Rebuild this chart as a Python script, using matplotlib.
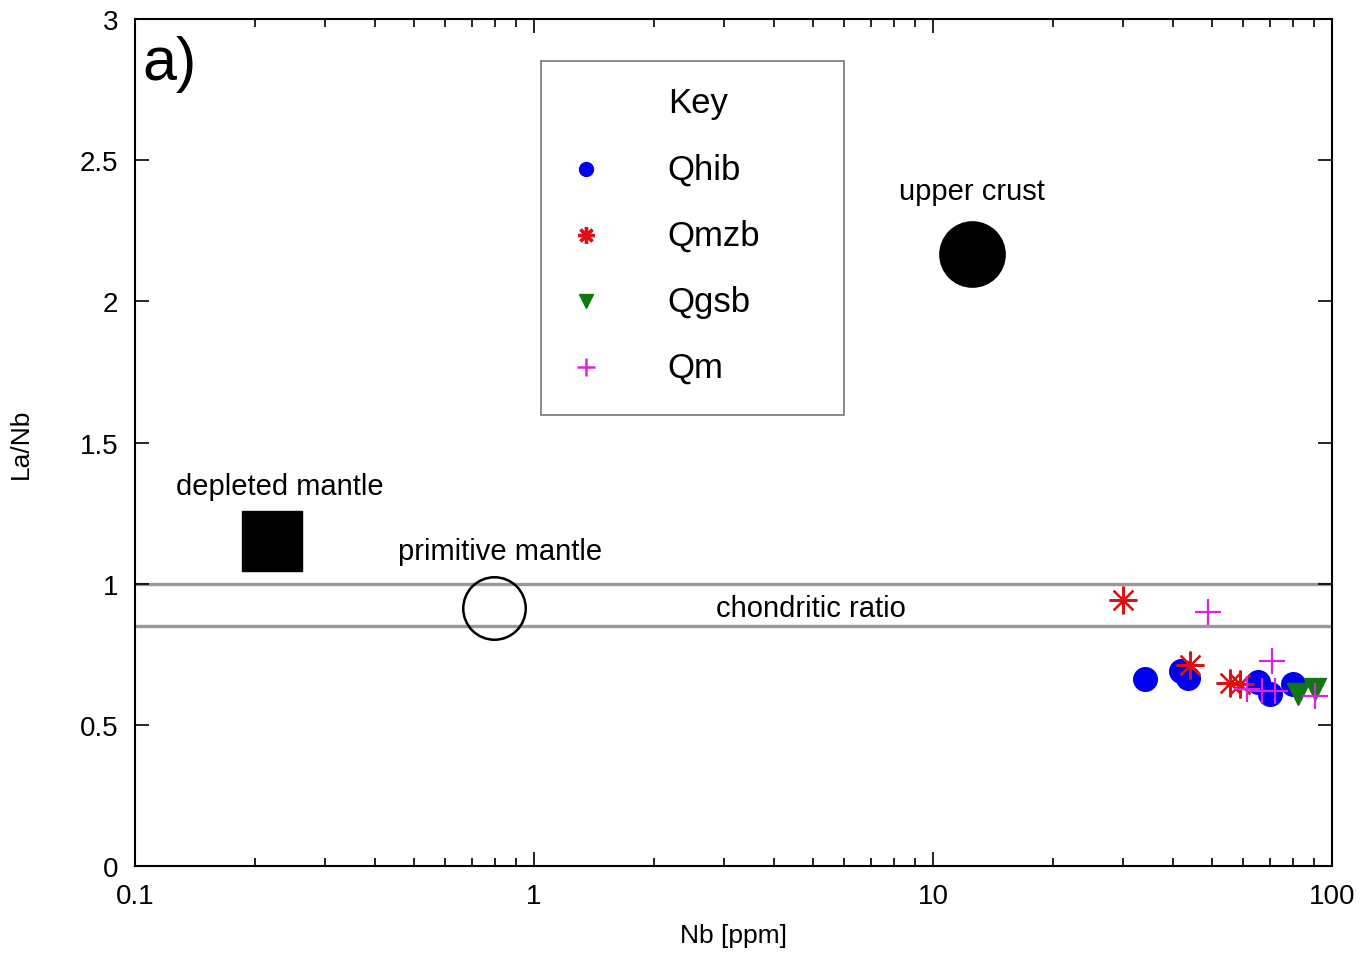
import matplotlib
matplotlib.use("Agg")
import matplotlib.pyplot as plt
from matplotlib.patches import Rectangle
from matplotlib.ticker import LogLocator, FixedLocator, NullFormatter, FixedFormatter

plt.rcParams['font.family'] = ['Liberation Sans', 'DejaVu Sans']

# ---- data ----
qhib_nb = [33.9, 41.9, 43.5, 65.3, 70.0, 79.9]
qhib_lanb = [0.662, 0.691, 0.666, 0.652, 0.609, 0.645]

qmzb_nb = [29.9, 44.0, 55.5, 58.8]
qmzb_lanb = [0.942, 0.712, 0.648, 0.645]

qgsb_nb = [82.2, 90.6]
qgsb_lanb = [0.609, 0.627]

qm_nb = [48.9, 70.8, 61.2, 66.8, 72.0, 90.6]
qm_lanb = [0.900, 0.726, 0.627, 0.620, 0.620, 0.602]

# reservoirs
dm_nb, dm_lanb = 0.22, 1.15
pm_nb, pm_lanb = 0.794, 0.914
uc_nb, uc_lanb = 12.5, 2.168
chondritic_lines = [1.0, 0.85]

xticks = [0.1, 1, 10, 100]
xticklabels = ['0.1', '1', '10', '100']
yticks = [0, 0.5, 1, 1.5, 2, 2.5, 3]
yticklabels = ['0', '0.5', '1', '1.5', '2', '2.5', '3']

legend_labels = ['Qhib', 'Qmzb', 'Qgsb', 'Qm']

# ---- figure ----
fig = plt.figure(figsize=(13.62, 9.54), dpi=100)
ax = fig.add_axes([135/1362, 1-867/954, 1197/1362, 847/954])
ax.set_xscale('log')
ax.set_xlim(0.1, 100)
ax.set_ylim(0, 3)

for y in chondritic_lines:
    ax.axhline(y, color='#999999', lw=2.4, zorder=1)

ast = (8, 2, 0)
ax.plot(dm_nb, dm_lanb, marker='s', ms=43, color='black', ls='none', zorder=3)
ax.plot(pm_nb, pm_lanb, marker='o', ms=45, mfc='none', mec='black', mew=1.8, ls='none', zorder=3)
ax.plot(uc_nb, uc_lanb, marker='o', ms=47, color='black', ls='none', zorder=3)

ax.plot(qhib_nb, qhib_lanb, marker='o', ms=17, color='#0000ee', ls='none', zorder=4)
ax.plot(qmzb_nb, qmzb_lanb, marker=ast, ms=20, color='#dd1111', mew=1.6, ls='none', zorder=5)
ax.plot(qgsb_nb, qgsb_lanb, marker='v', ms=16, color='#117711', ls='none', zorder=5)
ax.plot(qm_nb, qm_lanb, marker='+', ms=19, color='#dd22dd', mew=1.6, ls='none', zorder=6)

# annotations
ann_fs = 21
ax.text(0.2307, 1.347, 'depleted mantle', fontsize=ann_fs, ha='center', va='center')
ax.text(0.822, 1.115, 'primitive mantle', fontsize=ann_fs, ha='center', va='center')
ax.text(uc_nb, 2.39, 'upper crust', fontsize=ann_fs, ha='center', va='center')
ax.text(4.94, 0.914, 'chondritic ratio', fontsize=ann_fs, ha='center', va='center')
ax.text(0.006, 0.947, 'a)', fontsize=44, transform=ax.transAxes, ha='left', va='center')

# manual key box
ax.add_patch(Rectangle((0.339, 0.532), 0.253, 0.418, transform=ax.transAxes,
                       fill=True, fc='white', ec='#777777', lw=1.2, zorder=7))
leg_fs = 25
ax.text(0.445, 0.902, 'Key', fontsize=leg_fs, transform=ax.transAxes, va='center', ha='left', zorder=8)
rows = [0.823, 0.745, 0.667, 0.589]
specs = [dict(marker='o', ms=10, color='#0000ee'),
         dict(marker=ast, ms=12, color='#dd1111', mew=2.4),
         dict(marker='v', ms=10, color='#117711'),
         dict(marker='+', ms=13, color='#dd22dd', mew=1.8)]
for yr, lab, sp in zip(rows, legend_labels, specs):
    ax.plot([0.377], [yr], transform=ax.transAxes, ls='none', zorder=8, clip_on=False, **sp)
    ax.text(0.445, yr, lab, fontsize=leg_fs, transform=ax.transAxes, va='center', ha='left', zorder=8)

# ticks
ax.xaxis.set_major_locator(FixedLocator(xticks))
ax.xaxis.set_major_formatter(FixedFormatter(xticklabels))
ax.xaxis.set_minor_locator(LogLocator(base=10, subs=range(2, 10)))
ax.xaxis.set_minor_formatter(NullFormatter())
ax.yaxis.set_major_locator(FixedLocator(yticks))
ax.yaxis.set_major_formatter(FixedFormatter(yticklabels))
ax.tick_params(which='both', direction='in', top=True, right=True, labelsize=20, width=1.2)
ax.tick_params(which='major', length=10, pad=12)
ax.tick_params(which='minor', length=6)
for s in ax.spines.values():
    s.set_linewidth(1.5)

ax.set_xlabel('Nb [ppm]', fontsize=19, labelpad=10)
ax.set_ylabel('La/Nb', fontsize=19, labelpad=34)

fig.savefig('out.png', dpi=100)
